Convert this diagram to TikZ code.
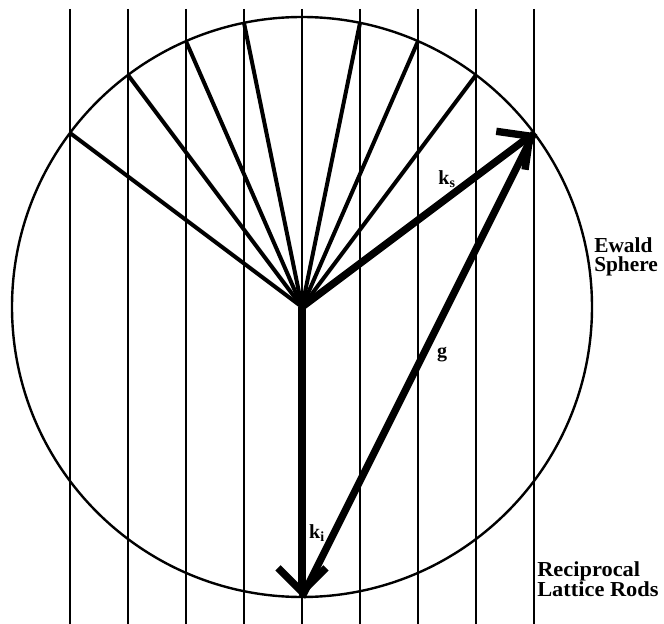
\documentclass[tikz,border=0pt]{standalone}
\usepackage{fontspec}
\setmainfont{Liberation Serif}
\usetikzlibrary{arrows.meta,calc}

\begin{document}
\begin{tikzpicture}[
  x=0.75pt, y=-0.75pt, line cap=butt, line join=miter,
  rod/.style={line width=1.4pt},
  sphere/.style={line width=1.8pt},
  ray/.style={line width=3pt},
  vec/.style={line width=5.5pt},
  barb/.style={-{Straight Barb[length=18pt, width=36pt, line width=5.5pt]}},
  veclab/.style={font=\fontsize{15}{15}\selectfont\bfseries, inner sep=0pt},
  caption/.style={font=\fontsize{16}{14.5}\selectfont\bfseries, align=left,
                  anchor=north west, inner sep=0pt}]

\useasboundingbox (0,0) rectangle (664,624);

\def\R{290}
\def\dx{58}
\coordinate (O) at (302,307);
\coordinate (B) at ($(O)+(0,\R)$);

% ---- reciprocal lattice rods -----------------------------------------
\foreach \k in {-4,...,4}{
  \coordinate (rt\k) at ($(O)+(\k*\dx,0)$);
  \coordinate (rodtop\k) at (rt\k |- 0,9);
  \coordinate (rodbot\k) at (rt\k |- 0,624);
  \draw[rod] (rodtop\k) -- (rodbot\k);
  \pgfmathsetmacro\h{\R*sqrt(1-(\k*\dx/\R)^2)}
  \coordinate (s\k) at ($(O)+(\k*\dx,-\h)$);
}

% ---- ewald sphere ----------------------------------------------------
\draw[sphere] (O) circle (\R);

% ---- scattered beams to the rods ------------------------------------
\foreach \k in {-4,-3,-2,-1,1,2,3}
  \draw[ray] (O) -- (s\k);

% ---- k_s, k_i and g ----------------------------------------------------
\draw[vec] (B) -- (s4);
\draw[vec, barb] (O) -- (s4);
\draw[vec, barb] (O) -- (B);

\node[veclab] (ks) at (447,179) {k\textsubscript{s}};
\node[veclab] (g) at (442,355) {g};
\node[veclab] (ki) at (317,533) {k\textsubscript{i}};

\node[caption] (ewald) at (594,237) {Ewald\\Sphere};
\node[caption, xscale=1.05] (rods) at (537,561) {Reciprocal\\Lattice Rods};

\end{tikzpicture}
\end{document}
